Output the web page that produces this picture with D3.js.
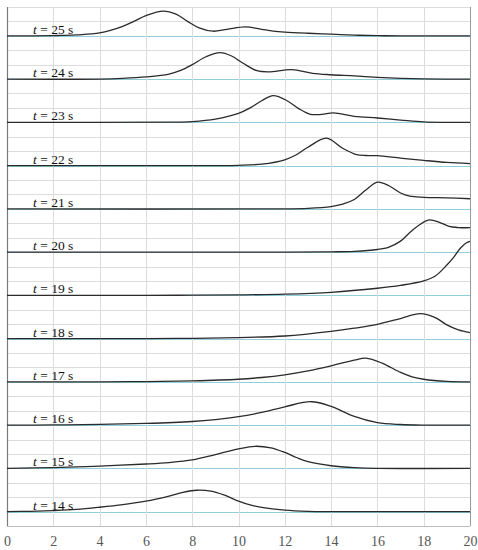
<!DOCTYPE html>
<html>
<head>
<meta charset="utf-8">
<script src="https://cdn.jsdelivr.net/npm/d3@7"></script>
<style>
  body { margin: 0; background: #fff; }
  svg { display: block; }
</style>
</head>
<body>
<div id="chart"></div>
<script>
// profiles: [x, height above own baseline, in grid units]
var wave14 = [[0,0],[1,0.02],[2,0.07],[3,0.15],[4,0.3],[5,0.48],[6,0.72],[7,1.08],[7.6,1.34],[8.2,1.48],[8.8,1.42],[9.4,1.14],[10,0.72],[10.5,0.46],[11,0.29],[12,0.1],[13,0.02],[14,0],[17,0],[20,0]];
var wave15 = [[0,0],[2,0.05],[4,0.16],[6,0.3],[7,0.4],[8,0.58],[9,0.95],[10,1.35],[10.7,1.53],[11.4,1.42],[12,1.1],[12.5,0.75],[13,0.46],[14,0.18],[15,0.05],[16,0],[20,0]];
var wave16 = [[0,0],[2,0.01],[4,0.05],[6,0.12],[8,0.25],[9,0.38],[10,0.58],[11,0.88],[12,1.27],[13.15,1.62],[14,1.3],[14.5,0.95],[15,0.6],[16,0.17],[17,0.04],[18,0],[20,0]];
var wave17 = [[0,0],[4,0],[6,0.02],[8,0.07],[10,0.18],[11,0.3],[12,0.49],[13,0.76],[14,1.11],[15,1.5],[15.5,1.64],[16.2,1.3],[17,0.65],[17.5,0.35],[18,0.18],[19,0.03],[20,0]];
var wave18 = [[0,0],[6,0],[8,0.02],[10,0.07],[12,0.18],[14,0.5],[15,0.72],[16,0.99],[17,1.39],[17.85,1.73],[18.5,1.46],[19,0.95],[19.5,0.6],[20,0.42]];
var wave19 = [[0,0],[6,0],[8,0.01],[10,0.03],[12,0.08],[14,0.21],[16,0.49],[17,0.69],[18,1.0],[18.5,1.34],[19,2.1],[19.3,2.65],[19.6,3.3],[19.85,3.65],[20,3.75]];
var wave20 = [[0,0],[12,0],[14,0.02],[15,0.05],[16,0.18],[16.5,0.35],[17,0.76],[17.5,1.5],[18.2,2.22],[18.7,2.05],[19.1,1.78],[19.5,1.7],[20,1.69]];
var wave21 = [[0,0],[12,0],[13,0.03],[14,0.15],[14.5,0.32],[15,0.65],[15.5,1.3],[16,1.85],[16.5,1.6],[17,1.1],[17.4,0.88],[18,0.8],[19,0.76],[20,0.7]];
var wave22 = [[0,0],[9,0],[10,0.02],[11,0.1],[12,0.4],[12.5,0.75],[13,1.27],[13.8,1.9],[14.5,1.2],[15.1,0.76],[15.5,0.7],[16,0.69],[17,0.52],[18,0.36],[19,0.22],[20,0.14]];
var wave23 = [[0,0],[7,0.01],[8,0.05],[9,0.22],[10,0.62],[10.5,1.0],[11,1.5],[11.5,1.85],[12.1,1.5],[12.6,0.95],[13.1,0.56],[13.6,0.55],[14.1,0.65],[15,0.42],[16,0.3],[17,0.16],[18,0.03],[19,0],[20,0]];
var wave24 = [[0,0],[4,0],[5,0.05],[6,0.15],[7,0.35],[7.5,0.6],[8,1.0],[8.6,1.55],[9.2,1.83],[9.7,1.6],[10.2,1.1],[10.8,0.58],[11.3,0.5],[12.3,0.65],[13.2,0.4],[14,0.3],[15,0.22],[16,0.12],[17,0.05],[18,0.01],[20,0]];
var wave25 = [[0,0],[1,0],[2,0.02],[3,0.07],[4,0.2],[5,0.66],[5.5,1.02],[6,1.4],[6.75,1.71],[7.3,1.5],[7.8,1.0],[8.3,0.55],[8.9,0.32],[9.5,0.45],[10.3,0.62],[11,0.45],[11.5,0.33],[12,0.26],[13,0.18],[14,0.12],[15,0.05],[16,0.01],[17,0],[20,0]];

var times = [14, 15, 16, 17, 18, 19, 20, 21, 22, 23, 24, 25];
var waves = [wave14, wave15, wave16, wave17, wave18, wave19, wave20, wave21, wave22, wave23, wave24, wave25];
var xTicks = [0, 2, 4, 6, 8, 10, 12, 14, 16, 18, 20];

(function () {
    var W = 478, H = 550;
    var mLeft = 7, mRight = 470, mTop = 7, mBottom = 526;

    var svg = d3.select("#chart").append("svg")
        .attr("width", W)
        .attr("height", H);

    var x = d3.scaleLinear().domain([0, 20]).range([mLeft, mRight]);
    var y = d3.scaleLinear().domain([0, 36]).range([mBottom, mTop]);

    function baseOf(t) {
        return 1 + (t - 14) * 3;
    }
    var baseRows = times.map(baseOf);

    // horizontal grid, cyan where a trace sits
    svg.append("g").selectAll("line")
        .data(d3.range(0, 37))
        .enter().append("line")
        .attr("x1", x(0)).attr("x2", x(20))
        .attr("y1", function (d) { return Math.round(y(d)) + 0.5; })
        .attr("y2", function (d) { return Math.round(y(d)) + 0.5; })
        .style("stroke", function (d) { return baseRows.indexOf(d) >= 0 ? "#8dcfdf" : "#dcdcdc"; })
        .style("stroke-width", function (d) { return baseRows.indexOf(d) >= 0 ? 1.2 : 1; });

    // vertical grid
    svg.append("g").selectAll("line")
        .data(xTicks.slice(1))
        .enter().append("line")
        .attr("x1", function (d) { return Math.round(x(d)) + 0.5; })
        .attr("x2", function (d) { return Math.round(x(d)) + 0.5; })
        .attr("y1", y(36)).attr("y2", y(0))
        .style("stroke", function (d) { return d === 20 ? "#9a9a9a" : "#dcdcdc"; })
        .style("stroke-width", 1);

    // left axis line
    svg.append("line")
        .attr("x1", x(0) + 0.5).attr("x2", x(0) + 0.5)
        .attr("y1", y(36)).attr("y2", y(0))
        .style("stroke", "#7a7a7a")
        .style("stroke-width", 1.2);

    // bottom edge
    svg.append("line")
        .attr("x1", x(0)).attr("x2", x(20))
        .attr("y1", Math.round(y(0)) + 0.5).attr("y2", Math.round(y(0)) + 0.5)
        .style("stroke", "#bdbdbd");

    // x tick labels
    var xAxis = d3.axisBottom(x).tickValues(xTicks).tickSize(0).tickPadding(10);
    var gx = svg.append("g")
        .attr("transform", "translate(0," + y(0) + ")")
        .call(xAxis);
    gx.select(".domain").remove();
    gx.selectAll("text")
        .style("font-family", "'Liberation Serif', 'DejaVu Serif', serif")
        .style("font-size", "14px")
        .style("fill", "#555");

    // traces
    var line = d3.line()
        .x(function (d) { return x(d[0]); })
        .y(function (d) { return y(d[1]); })
        .curve(d3.curveCatmullRom.alpha(0.5));

    times.forEach(function (t, i) {
        var b = baseOf(t);
        var pts = waves[i].map(function (p) { return [p[0], b + p[1]]; });
        svg.append("path")
            .attr("d", line(pts))
            .style("fill", "none")
            .style("stroke", "#2b2b2b")
            .style("stroke-width", 1.3);

        var label = svg.append("text")
            .attr("x", 33)
            .attr("y", y(b) - 2)
            .style("font-family", "'Liberation Serif', 'DejaVu Serif', serif")
            .style("font-size", "13.5px")
            .style("fill", "#111");
        label.append("tspan").style("font-style", "italic").text("t");
        label.append("tspan").text(" = " + t + " s");
    });
})();
</script>
</body>
</html>
